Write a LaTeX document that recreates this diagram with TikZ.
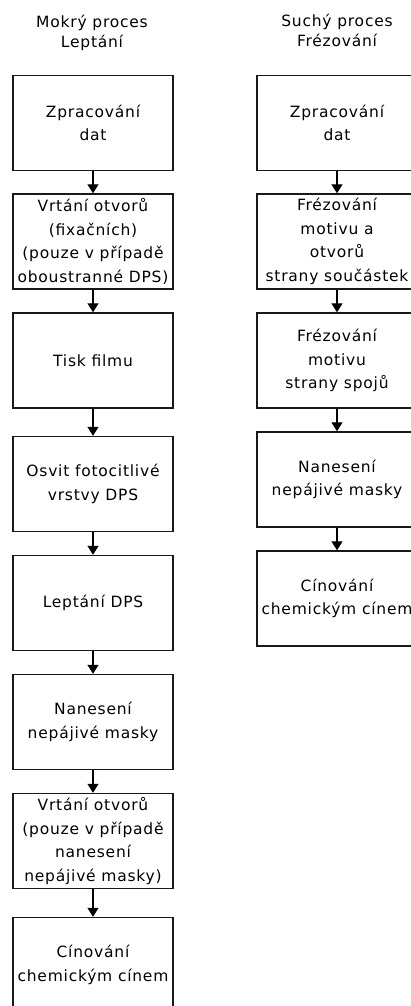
\documentclass[tikz,border=0pt]{standalone}
\usepackage{fontspec}
\setmainfont{DejaVu Sans}[LetterSpace=5]
\usetikzlibrary{arrows.meta}
\tikzset{
  stepbox/.style={draw=black!90, line width=1.4pt, minimum width=160pt, minimum height=95pt, inner sep=0pt, align=center, font=\fontsize{15.5}{23.5}\selectfont},
  title/.style={align=center, inner sep=0pt, font=\fontsize{15.5}{20}\selectfont},
  flow/.style={line width=1.2pt, -{Triangle[width=11pt,length=9pt]}}
}
\begin{document}
\begin{tikzpicture}[x=1pt,y=1pt]
\useasboundingbox (0,0) rectangle (411,-1006);
\node[title] (tl) at (92,-33) {Mokrý proces\\Leptání};
\node[title] (tr) at (337,-30) {Suchý proces\\Frézování};
% left column
\node[stepbox] (l1) at (93,-123) {Zpracování\\dat};
\node[stepbox] (l2) at (93,-241.5) {Vrtání otvorů\\(fixačních)\\(pouze v případě\\oboustranné DPS)};
\node[stepbox] (l3) at (93,-360.5) {Tisk filmu};
\node[stepbox] (l4) at (93,-484) {Osvit fotocitlivé\\vrstvy DPS};
\node[stepbox] (l5) at (93,-603) {Leptání DPS};
\node[stepbox] (l6) at (93,-722) {Nanesení\\nepájivé masky};
\node[stepbox] (l7) at (93,-841) {Vrtání otvorů\\(pouze v případě\\nanesení\\nepájivé masky)};
\node[stepbox] (l8) at (93,-965) {Cínování\\chemickým cínem};
% right column
\node[stepbox] (r1) at (337,-123) {Zpracování\\dat};
\node[stepbox] (r2) at (337,-241.5) {Frézování\\motivu a\\otvorů\\strany součástek};
\node[stepbox] (r3) at (337,-360.5) {Frézování\\motivu\\strany spojů};
\node[stepbox] (r4) at (337,-479.5) {Nanesení\\nepájivé masky};
\node[stepbox] (r5) at (337,-598.5) {Cínování\\chemickým cínem};
% connectors
\foreach \a/\b in {l1/l2,l2/l3,l3/l4,l4/l5,l5/l6,l6/l7,l7/l8,r1/r2,r2/r3,r3/r4,r4/r5}
  \draw[flow] (\a.south) -- (\b.north);
\end{tikzpicture}
\end{document}
